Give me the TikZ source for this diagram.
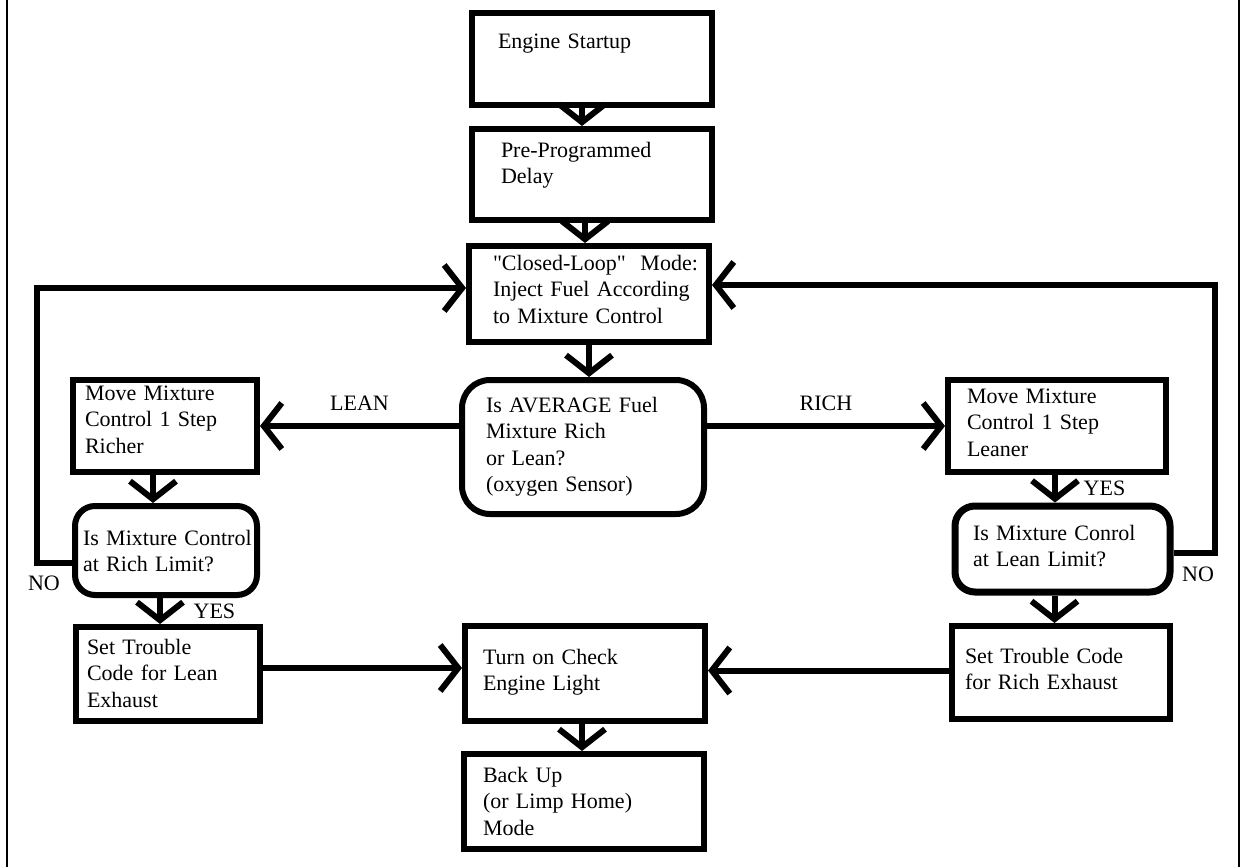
\documentclass[tikz,border=0pt]{standalone}
\usepackage{fontspec}
\setmainfont{Liberation Serif}
\usetikzlibrary{arrows.meta}

\tikzset{
  box/.style={draw,line width=3pt,inner sep=0pt,align=left},
  rbox/.style={box,rounded corners=10pt},
  arr/.style={line width=3pt,-{Straight Barb[length=9pt,width=23pt]}},
}

\begin{document}
\begin{tikzpicture}[x=.5pt,y=-.5pt,font=\fontsize{11}{13.25}\selectfont]
\useasboundingbox (0,0) rectangle (1246,867);
\draw[line width=1pt] (7,0)--(7,867) (1239,0)--(1239,867);

% middle column
\node[box,text width=120pt,text height=17.5pt,text depth=28.5pt] (start) at (592,59)
  {\leftskip=13pt Engine Startup\par};
\node[box,text width=120pt,text height=14pt,text depth=31.5pt] (delay) at (592,174.5)
  {\leftskip=14.5pt Pre-Programmed\\Delay\par};
\node[box,text width=120pt,text height=12pt,text depth=36pt] (loop) at (589,294)
  {\leftskip=12pt \textquotedbl Closed-Loop\textquotedbl~ Mode:\\Inject Fuel According\\to Mixture Control\par};
\node[rbox,rounded corners=14pt,text width=121pt,text height=16pt,text depth=51pt] (avg) at (583,447)
  {\leftskip=12pt Is AVERAGE Fuel\\Mixture Rich\\or Lean?\\(oxygen Sensor)\par};
\node[box,text width=120pt,text height=19pt,text depth=28.5pt] (check) at (585,673.5)
  {\leftskip=9pt Turn on Check\\Engine Light\par};
\node[box,text width=120pt,text height=14pt,text depth=33.5pt] (backup) at (584,801.5)
  {\leftskip=9.5pt Back Up\\(or Limp Home)\\Mode\par};

% left column
\node[box,text width=92pt,text height=10pt,text depth=36pt] (richer) at (165,426)
  {\leftskip=6pt Move Mixture\\Control 1 Step\\Richer\par};
\node[rbox,text width=91pt,text height=19.5pt,text depth=25pt] (richlim) at (166,550.5)
  {\leftskip=4pt Is Mixture Control\\at Rich Limit?\par};
\node[box,text width=92pt,text height=13.5pt,text depth=33.5pt] (setlean) at (168,674)
  {\leftskip=5.5pt Set Trouble\\Code for Lean\\Exhaust\par};

% right column
\node[box,text width=109pt,text height=11.5pt,text depth=34.5pt] (leaner) at (1057,426)
  {\leftskip=9.5pt Move Mixture\\Control 1 Step\\Leaner\par};
\node[rbox,text width=107.5pt,text height=17pt,text depth=26pt,line width=3.5pt] (leanlim) at (1062.5,549)
  {\leftskip=9pt Is Mixture Conrol\\at Lean Limit?\par};
\node[box,text width=109pt,text height=18.5pt,text depth=28pt] (setrich) at (1061,672.5)
  {\leftskip=6.5pt Set Trouble Code\\for Rich Exhaust\par};

% connectors
\draw[arr] ([xshift=-5pt]start.south) -- ([xshift=-5pt]delay.north);
\draw[arr] ([xshift=-3.5pt]delay.south) -- ([xshift=-3.5pt]delay.south |- loop.north);
\draw[arr] (loop.south) -- (loop.south |- avg.north);
\draw[arr] (richer.east -| avg.west) -- (richer.east) node[midway,above=3pt] {LEAN};
\draw[arr] (leaner.west -| avg.east) -- (leaner.west) node[midway,above=3pt] {RICH};
\draw[arr] ([xshift=-6pt]richer.south) -- ([xshift=-6pt]richer.south |- richlim.north);
\draw[arr] ([xshift=-3pt]richlim.south) -- ([xshift=-3pt]richlim.south |- setlean.north)
  node[pos=.5,right=12pt] {YES};
\draw[arr] ([xshift=-1pt]leaner.south) -- ([xshift=-1pt]leaner.south |- leanlim.north)
  node[midway,right=9.5pt] {YES};
\draw[arr] ([xshift=-4pt]leanlim.south) -- ([xshift=-4pt]leanlim.south |- setrich.north);
\draw[arr] ([xshift=-1.5pt]check.south) -- ([xshift=-1.5pt]check.south |- backup.north);
\draw[arr] ([yshift=3pt]setlean.east) -- ([yshift=3pt]setlean.east -| check.west);
\draw[arr] ([yshift=1pt]setrich.west) -- ([yshift=1pt]setrich.west -| check.east);
% feedback loops
\draw[arr] ([yshift=-6pt]richlim.west) -- ++(-35,0) node[pos=.8,below=2pt] {NO}
  |- ([yshift=3pt]loop.west);
\draw[arr] ([yshift=-2pt]leanlim.east) -- ++(41,0) node[pos=.6,below=2pt] {NO}
  |- ([yshift=4.5pt]loop.east);
\end{tikzpicture}
\end{document}
